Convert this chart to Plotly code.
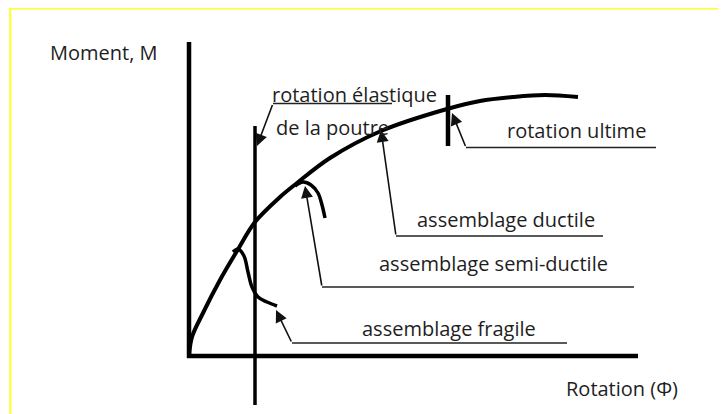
import plotly.graph_objects as go

W, H = 726, 414
OFF = 8                      # page body margin of the written html
OX, OY, S = 189, 356, 10.0   # screen pixel origin and pixels per unit (layout only)

# Moment-rotation curves (rotation phi, moment M), arbitrary units
main_phi = [0, 0.3, 1.4, 3.1, 4.8, 6.6, 9.1, 10.8, 14.1, 19.2, 25.8, 29.1, 32.4, 35.6, 38.9]
main_m = [0, 1.9, 4.3, 7.6, 10.5, 13.4, 15.9, 17.3, 19.8, 22.5, 24.7, 25.5, 25.9, 26.1, 25.9]
semi_phi = [10.6, 11.4, 12.2, 12.9, 13.3, 13.6]
semi_m = [17.0, 17.4, 17.1, 16.3, 15.1, 13.8]
frag_phi = [4.4, 4.9, 5.5, 5.9, 6.3, 6.9, 7.8, 8.8]
frag_m = [10.4, 10.7, 10.0, 8.4, 6.9, 5.9, 5.4, 5.0]

# axes and reference lines
yaxis_phi = [0, 0]
yaxis_m = [-0.2, 31.4]
xaxis_phi = [-0.2, 44.9]
xaxis_m = [0, 0]
elastic_phi = [6.6, 6.6]
elastic_m = [23.0, -4.9]
ultimate_phi = [25.9, 25.9]
ultimate_m = [26.1, 21.0]

# labels with leader lines
labels = ["rotation élastique", "rotation ultime", "assemblage ductile",
          "assemblage semi-ductile", "assemblage fragile"]
leader_m = [25.25, 20.85, 12.0, 6.9, 1.3]
leader_x0 = [8.4, 27.7, 20.7, 13.3, 10.3]
leader_x1 = [20.3, 46.7, 41.4, 44.5, 37.8]
tip_phi = [6.8, 26.3, 19.2, 11.6, 8.7]
tip_m = [21.0, 24.3, 22.6, 17.0, 4.6]


def dx(px):
    return (px - OX) / S


def dy(py):
    return (OY - py) / S


fig = go.Figure()

def add_line(xs, ys, w, color="#000000", spline=False):
    fig.add_trace(go.Scatter(x=xs, y=ys, mode="lines",
                             line=dict(color=color, width=w,
                                       shape="spline" if spline else "linear"),
                             hoverinfo="skip", showlegend=False))

add_line(yaxis_phi, yaxis_m, 4.5)
add_line(xaxis_phi, xaxis_m, 4.5)
add_line(elastic_phi, elastic_m, 3.5)
add_line(ultimate_phi, ultimate_m, 4.5)
add_line(main_phi, main_m, 4, spline=True)
add_line(semi_phi, semi_m, 3.5, spline=True)
add_line(frag_phi, frag_m, 3.5, spline=True)

for i in range(len(labels)):
    add_line([leader_x0[i], leader_x1[i]], [leader_m[i], leader_m[i]], 1.6, color="#222222")
    fig.add_annotation(x=tip_phi[i], y=tip_m[i], ax=leader_x0[i], ay=leader_m[i],
                       xref="x", yref="y", axref="x", ayref="y", text="",
                       showarrow=True, arrowhead=2, arrowsize=1.5, arrowwidth=1.6,
                       arrowcolor="#111111", standoff=0)

FONT = dict(family="Open Sans", size=20, color="#1e1e1e")
texts = [
    ("Moment, M", 104, 52),
    ("rotation élastique", 354, 94),
    ("de la poutre", 332.5, 127),
    ("rotation ultime", 576, 130),
    ("assemblage ductile", 506, 219),
    ("assemblage semi-ductile", 493.5, 263),
    ("assemblage fragile", 449, 328),
    ("Rotation (Φ)", 621.5, 388),
]
for t, px, py in texts:
    fig.add_annotation(x=dx(px), y=dy(py), xref="x", yref="y", text=t,
                       showarrow=False, xanchor="center", yanchor="middle", font=FONT)

# yellow frame (screen px -> paper)
def pxp(px):
    return (px - OFF) / W


def pyp(py):
    return 1 - (py - OFF) / H

fig.add_shape(type="line", xref="paper", yref="paper", x0=pxp(10), x1=pxp(W + OFF), y0=pyp(8.3), y1=pyp(8.3),
              line=dict(color="#FFFF33", width=2.2))
fig.add_shape(type="line", xref="paper", yref="paper", x0=pxp(10.3), x1=pxp(10.3), y0=pyp(8), y1=pyp(H + OFF),
              line=dict(color="#FFFF33", width=2.2))

fig.update_layout(
    width=W, height=H, autosize=False,
    margin=dict(l=0, r=0, t=0, b=0, pad=0),
    paper_bgcolor="white", plot_bgcolor="white",
    xaxis=dict(range=[dx(OFF), dx(OFF + W)], visible=False, fixedrange=True),
    yaxis=dict(range=[dy(OFF + H), dy(OFF)], visible=False, fixedrange=True),
)

fig.write_html("out.html")
